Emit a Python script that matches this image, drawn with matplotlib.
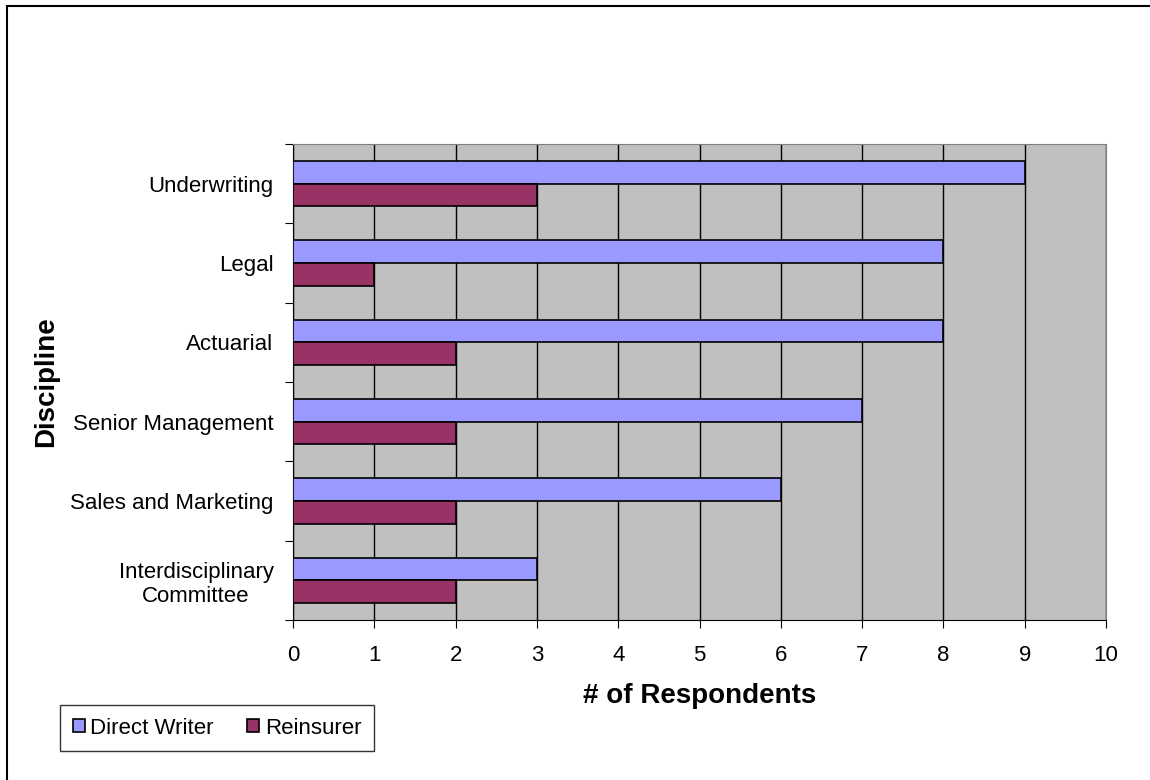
import matplotlib.pyplot as plt
import numpy as np
from matplotlib.patches import Rectangle

plt.rcParams['font.family'] = ['Liberation Sans', 'DejaVu Sans']

# 数据
categories = ['Interdisciplinary\nCommittee', 'Sales and Marketing', 'Senior Management',
              'Actuarial', 'Legal', 'Underwriting']
direct_writer = [3, 6, 7, 8, 8, 9]
reinsurer = [2, 2, 2, 2, 1, 3]

fig = plt.figure(figsize=(11.5, 7.8), dpi=100)
ax = fig.add_axes([293 / 1150, 1 - 620 / 780, (1106 - 293) / 1150, (620 - 144) / 780])

# 外框
fig.patches.append(Rectangle((7 / 1150, -0.1), 1.2, 1 - 6 / 780 + 0.1, transform=fig.transFigure,
                             fill=False, edgecolor='black', linewidth=1.5))

y = np.arange(len(categories))
h = 0.287
ax.barh(y + h / 2, direct_writer, height=h, color='#9999FF', edgecolor='black', linewidth=1.2,
        label='Direct Writer', zorder=3)
ax.barh(y - h / 2, reinsurer, height=h, color='#993366', edgecolor='black', linewidth=1.2,
        label='Reinsurer', zorder=3)

ax.set_facecolor('#C0C0C0')
ax.set_xlim(0, 10)
ax.set_ylim(-0.5, len(categories) - 0.5)
ax.set_xticks(range(11))
ax.xaxis.grid(True, color='black', linewidth=1, zorder=1)
ax.set_axisbelow(True)

# y轴刻度在类别边界上
ax.set_yticks(np.arange(-0.5, len(categories), 1))
ax.set_yticklabels([])
ax.set_yticks(y, minor=True)
ax.set_yticklabels(categories, minor=True, fontsize=16, multialignment='center')
ax.tick_params(axis='y', which='minor', length=0, pad=14)
ax.tick_params(axis='y', which='major', length=6, direction='out')
ax.tick_params(axis='x', length=6, direction='out', labelsize=16, pad=12)

for s in ['top', 'right']:
    ax.spines[s].set_color('#808080')
for s in ['left', 'bottom']:
    ax.spines[s].set_color('black')

ax.set_xlabel('# of Respondents', fontsize=20, fontweight='bold', labelpad=12)
ax.set_ylabel('Discipline', fontsize=20, fontweight='bold', labelpad=8)

leg = ax.legend(loc='center', bbox_to_anchor=(217 / 1150, 1 - 728 / 780),
                bbox_transform=fig.transFigure, ncol=2, fontsize=16, frameon=True, fancybox=False,
                edgecolor='black', handlelength=0.55, handleheight=0.55, handletextpad=0.25,
                columnspacing=1.5, borderpad=0.55, borderaxespad=0)
leg.get_frame().set_linewidth(1)

fig.savefig('out.png', dpi=100)
